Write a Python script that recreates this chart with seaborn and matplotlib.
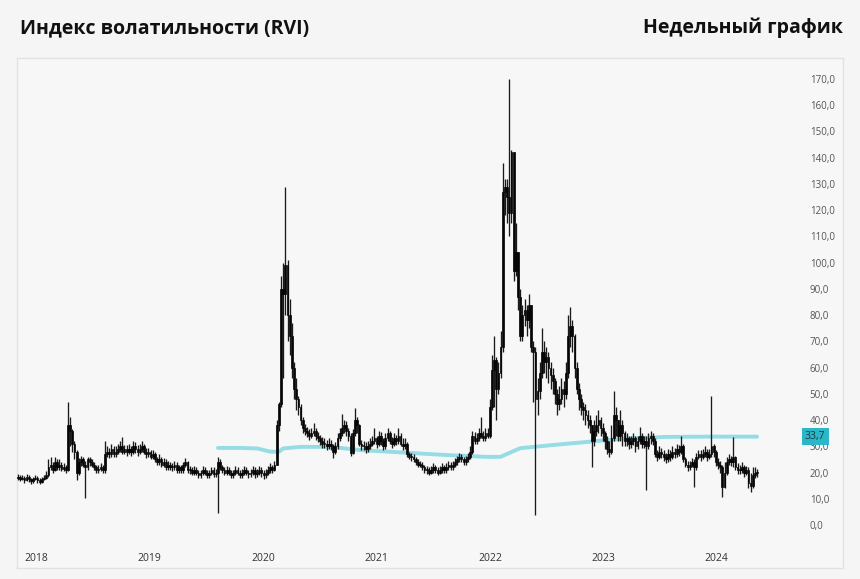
import matplotlib
matplotlib.use("Agg")
import numpy as np
import pandas as pd
import matplotlib.pyplot as plt
import matplotlib.transforms as mtransforms
import seaborn as sns

# ---------------- data (weekly RVI bars) ----------------
start_date = "2017-11-03"
first_open = 18.0

closes = [
    18.5, 17.5, 18.0, 17.0, 18.5, 17.5, 16.8, 17.5, 18.0, 17.0,
    16.5, 17.5, 18.0, 19.0, 22.0, 23.0, 21.0, 24.0, 22.0, 23.0,
    21.5, 22.0, 21.0, 38.0, 36.0, 31.0, 28.0, 20.0, 24.0, 25.0,
    23.0, 22.0, 25.0, 24.0, 23.0, 22.0, 21.0, 21.5, 22.0, 21.0,
    27.0, 28.0, 27.0, 29.0, 27.0, 28.0, 29.0, 30.0, 28.0, 29.0,
    28.0, 29.0, 28.0, 30.0, 29.0, 28.0, 29.0, 30.0, 28.0, 27.0,
    28.0, 26.0, 27.0, 25.0, 24.0, 25.0, 23.0, 24.0, 22.0, 23.0,
    22.0, 22.0, 23.0, 21.0, 22.0, 21.0, 23.0, 24.0, 21.0, 21.0,
    20.0, 21.0, 20.0, 19.0, 20.0, 21.0, 20.0, 19.0, 20.0, 21.0,
    19.5, 20.0, 24.0, 22.0, 21.0, 20.0, 21.0, 20.0, 19.0, 20.0,
    21.0, 20.0, 19.0, 20.0, 21.0, 20.0, 19.5, 20.0, 21.0, 19.5,
    20.0, 21.0, 20.0, 19.0, 20.0, 21.0, 22.0, 21.0, 23.0, 38.0,
    46.0, 90.0, 88.0, 99.0, 80.0, 72.0, 60.0, 52.0, 48.0, 45.0,
    40.0, 37.0, 36.0, 35.0, 34.0, 35.0, 36.0, 34.0, 33.0, 32.0,
    31.0, 31.0, 30.0, 31.0, 30.0, 28.0, 30.0, 33.0, 35.0, 37.0,
    38.0, 36.0, 34.0, 27.5, 35.0, 40.0, 38.0, 31.0, 30.0, 30.0,
    29.0, 30.0, 31.0, 32.0, 33.0, 31.0, 34.0, 32.0, 30.0, 33.0,
    35.0, 32.0, 31.0, 33.0, 32.0, 34.0, 31.0, 30.0, 31.0, 27.0,
    26.0, 26.0, 25.0, 24.0, 23.0, 23.0, 22.0, 21.0, 21.0, 20.0,
    21.0, 22.0, 21.0, 20.0, 21.0, 22.0, 21.0, 22.0, 23.0, 22.0,
    23.0, 24.0, 25.0, 26.0, 25.0, 24.0, 25.0, 26.0, 28.0, 34.0,
    32.0, 33.0, 35.0, 34.0, 33.0, 35.0, 34.0, 45.0, 59.0, 63.0,
    52.0, 58.0, 68.0, 127.0, 129.0, 125.0, 119.0, 142.0, 97.0, 104.0,
    87.0, 72.0, 80.0, 82.0, 78.0, 84.0, 68.0, 66.0, 48.0, 51.0,
    58.0, 66.0, 62.0, 64.0, 60.0, 57.0, 55.0, 50.0, 46.0, 48.0,
    52.0, 50.0, 58.0, 72.0, 76.0, 72.0, 60.0, 52.0, 48.0, 45.0,
    44.0, 42.0, 40.0, 38.0, 32.0, 36.0, 38.0, 40.0, 37.0, 35.0,
    32.0, 29.0, 28.0, 33.0, 42.0, 40.0, 34.0, 38.0, 35.0, 32.0,
    33.0, 31.0, 32.0, 33.0, 30.0, 32.0, 34.0, 31.0, 32.0, 30.0,
    33.0, 34.0, 32.0, 27.0, 26.0, 28.0, 27.0, 26.0, 25.0, 27.0,
    26.0, 28.0, 27.0, 29.0, 28.0, 30.0, 25.0, 23.0, 22.0, 23.0,
    24.0, 22.0, 26.0, 27.0, 26.0, 27.0, 28.0, 26.0, 27.0, 30.0,
    28.0, 24.0, 23.0, 22.0, 14.5, 20.0, 24.0, 25.0, 24.0, 26.0,
    22.0, 21.0, 21.0, 22.0, 20.0, 21.0, 16.0, 15.0, 19.0, 20.0, 20.0,
]

highs = [
    19.5, 19.0, 19.2, 18.8, 19.5, 19.0, 18.0, 18.5, 19.0, 18.6,
    17.8, 18.4, 19.0, 20.5, 25.0, 26.0, 24.0, 26.0, 25.0, 25.0,
    24.0, 23.5, 23.0, 47.0, 41.0, 36.5, 32.0, 28.5, 25.5, 26.5,
    26.0, 24.5, 26.0, 26.0, 25.0, 24.0, 23.0, 23.0, 23.5, 23.0,
    32.0, 30.0, 29.5, 31.0, 30.0, 30.0, 31.0, 32.0, 33.5, 30.5,
    30.5, 31.0, 30.0, 32.0, 31.5, 30.5, 31.0, 32.0, 31.0, 29.5,
    29.5, 28.5, 28.5, 28.0, 26.0, 27.0, 26.0, 25.5, 25.0, 24.5,
    24.0, 23.5, 24.5, 24.0, 23.0, 23.0, 24.0, 25.5, 24.5, 22.5,
    22.0, 22.5, 22.0, 21.0, 21.0, 22.5, 22.0, 21.0, 21.0, 22.0,
    22.0, 21.5, 26.0, 25.0, 23.0, 22.0, 22.5, 22.0, 21.0, 21.0,
    22.5, 22.0, 21.0, 21.5, 22.5, 22.0, 21.0, 21.5, 22.5, 22.0,
    21.5, 22.5, 22.0, 21.0, 21.5, 22.5, 23.5, 23.0, 24.5, 40.0,
    47.0, 95.0, 100.0, 129.0, 101.0, 86.0, 77.0, 62.0, 56.0, 49.0,
    46.0, 41.0, 38.5, 37.5, 36.5, 37.0, 39.0, 37.0, 35.5, 34.5,
    33.5, 33.0, 32.5, 33.0, 32.5, 31.0, 31.5, 35.0, 37.0, 42.5,
    40.0, 39.5, 37.0, 35.0, 36.5, 44.6, 41.0, 38.5, 32.5, 32.0,
    31.5, 32.0, 33.0, 34.0, 37.0, 34.0, 36.0, 35.5, 33.0, 35.0,
    37.0, 36.0, 33.5, 35.0, 34.5, 37.0, 35.0, 33.0, 33.0, 31.5,
    28.0, 27.5, 27.0, 26.0, 25.0, 24.5, 24.0, 23.0, 22.5, 22.0,
    22.5, 23.5, 23.0, 22.0, 22.5, 23.5, 23.0, 23.5, 24.5, 24.0,
    24.5, 25.5, 26.5, 27.5, 27.0, 26.0, 26.5, 27.5, 30.0, 36.0,
    35.5, 35.0, 37.0, 41.0, 36.0, 37.0, 37.0, 48.0, 65.0, 72.0,
    64.0, 62.0, 74.0, 138.0, 132.0, 132.0, 170.0, 143.0, 142.0, 115.0,
    104.0, 90.0, 84.0, 86.0, 84.0, 88.0, 84.0, 70.0, 68.0, 56.0,
    62.0, 75.0, 70.0, 68.0, 66.0, 62.0, 60.0, 56.0, 52.0, 53.0,
    56.0, 55.0, 62.0, 80.0, 83.0, 78.0, 73.0, 62.0, 54.0, 50.0,
    47.0, 46.0, 44.0, 42.0, 38.0, 40.0, 42.0, 44.0, 41.0, 39.0,
    36.0, 34.0, 32.0, 38.0, 51.0, 45.0, 40.0, 44.0, 40.0, 36.0,
    35.0, 34.0, 34.0, 35.0, 34.0, 34.0, 37.4, 35.0, 34.0, 34.0,
    35.0, 36.0, 35.0, 33.0, 28.5, 30.0, 29.5, 28.5, 27.5, 29.0,
    28.5, 30.0, 29.5, 31.0, 30.5, 34.0, 31.0, 26.0, 24.5, 24.5,
    25.5, 25.0, 27.5, 28.5, 28.5, 29.0, 30.0, 29.0, 29.0, 49.0,
    31.0, 28.5, 25.5, 24.5, 23.0, 24.0, 26.0, 27.0, 26.5, 33.6,
    26.5, 23.5, 23.0, 24.0, 23.0, 22.5, 22.0, 20.0, 22.0, 22.0, 21.5,
]

lows = [
    17.0, 16.8, 17.0, 16.2, 16.8, 16.5, 15.8, 16.0, 17.0, 16.2,
    15.6, 16.0, 17.0, 17.5, 18.5, 21.0, 20.0, 20.5, 21.0, 21.0,
    20.5, 20.5, 20.0, 20.5, 30.0, 28.0, 25.0, 17.0, 19.0, 22.5,
    22.0, 10.3, 21.0, 22.5, 22.0, 21.0, 20.0, 20.0, 20.5, 20.0,
    20.0, 26.0, 25.5, 26.0, 26.0, 26.0, 27.0, 28.0, 27.0, 27.0,
    26.5, 27.0, 26.5, 27.0, 27.5, 26.5, 27.0, 28.0, 27.0, 25.5,
    26.0, 25.0, 25.0, 24.0, 23.0, 23.0, 22.0, 22.0, 21.0, 21.0,
    21.0, 20.5, 21.0, 20.0, 20.0, 20.0, 20.0, 22.0, 20.0, 19.5,
    19.0, 19.0, 19.0, 18.0, 18.0, 19.0, 19.0, 18.0, 18.0, 19.0,
    18.5, 18.5, 4.6, 21.0, 20.0, 19.0, 19.0, 19.0, 18.0, 18.0,
    19.0, 19.0, 18.0, 18.0, 19.0, 19.0, 18.0, 18.5, 19.0, 18.0,
    18.5, 19.0, 18.5, 17.5, 18.0, 19.0, 20.0, 20.0, 20.5, 23.0,
    36.0, 45.0, 56.0, 80.0, 70.0, 65.0, 56.0, 48.0, 44.0, 42.0,
    38.0, 35.0, 34.5, 33.5, 32.5, 33.0, 34.0, 32.5, 31.5, 30.5,
    29.5, 29.5, 28.5, 29.0, 28.5, 25.6, 27.0, 29.0, 32.0, 34.0,
    35.0, 34.0, 32.0, 26.5, 27.0, 34.0, 35.0, 30.0, 28.5, 28.5,
    27.5, 28.0, 29.0, 30.0, 31.0, 29.5, 30.0, 30.5, 28.5, 29.0,
    32.0, 31.0, 29.5, 30.0, 30.5, 31.0, 30.0, 28.5, 29.0, 26.0,
    25.0, 24.5, 24.0, 23.0, 22.0, 22.0, 21.0, 20.0, 19.5, 19.0,
    19.5, 20.0, 20.0, 19.0, 19.5, 20.0, 20.0, 20.0, 21.0, 21.0,
    21.0, 22.0, 23.0, 24.0, 24.0, 23.0, 23.0, 24.0, 25.0, 27.0,
    31.0, 31.0, 32.0, 33.0, 32.0, 32.0, 33.0, 33.0, 44.0, 45.0,
    40.0, 50.0, 56.0, 66.0, 118.0, 115.0, 110.0, 115.0, 93.0, 95.0,
    82.0, 70.0, 70.0, 76.0, 72.0, 75.0, 66.0, 47.0, 3.8, 42.0,
    48.0, 56.0, 58.0, 56.0, 54.0, 52.0, 50.0, 46.0, 42.0, 44.0,
    46.0, 45.0, 48.0, 56.0, 68.0, 66.0, 56.0, 50.0, 44.0, 42.0,
    40.0, 38.0, 37.0, 35.0, 22.0, 30.0, 34.0, 35.0, 34.0, 32.0,
    29.0, 27.0, 26.0, 27.0, 32.0, 34.0, 32.0, 32.0, 30.0, 30.0,
    30.0, 29.0, 29.5, 30.5, 28.0, 29.0, 31.0, 29.5, 29.5, 13.3,
    29.0, 31.0, 30.5, 26.0, 24.5, 25.0, 25.5, 24.5, 23.5, 24.0,
    24.5, 25.0, 25.5, 26.0, 26.5, 27.0, 24.0, 22.0, 20.5, 21.0,
    22.0, 14.5, 21.0, 25.0, 24.5, 25.0, 26.0, 24.5, 25.0, 26.0,
    26.0, 22.5, 21.5, 20.0, 10.7, 14.0, 19.0, 23.0, 22.5, 22.0,
    21.0, 19.5, 19.5, 20.0, 18.5, 19.0, 14.0, 12.6, 14.0, 18.0, 18.5,
]

# moving-average line (cyan)
ma_dates = [
    "2019-08-09", "2019-10-18", "2019-12-13", "2020-01-24", "2020-02-21",
    "2020-03-06", "2020-05-01", "2020-08-07", "2020-11-06", "2021-04-02",
    "2021-08-13", "2021-12-17", "2022-02-04", "2022-04-08", "2022-07-22",
    "2022-11-11", "2023-02-24", "2023-04-28", "2023-07-21", "2023-12-15",
    "2024-05-10",
]
ma_values = [
    29.4, 29.4, 29.2, 28.0, 27.9,
    29.2, 29.8, 29.8, 28.6, 27.6,
    26.7, 26.0, 26.0, 29.3, 30.5,
    31.7, 32.8, 33.2, 33.6, 33.7,
    33.7,
]
ma_last_label = "33,7"

year_labels = ["2018", "2019", "2020", "2021", "2022", "2023", "2024"]
y_ticks = list(range(0, 171, 10))
title_left = "Индекс волатильности (RVI)"
title_right = "Недельный график"

assert len(closes) == len(highs) == len(lows)

# ---------------- build frames ----------------
dates = pd.date_range(start_date, periods=len(closes), freq="7D")
opens = [first_open] + closes[:-1]
df = pd.DataFrame({"date": dates, "open": opens, "high": highs,
                   "low": lows, "close": closes})
df["body_low"] = df[["open", "close"]].min(axis=1)
df["body_h"] = (df[["open", "close"]].max(axis=1) - df["body_low"]).clip(lower=0.4)
ma_df = pd.DataFrame({"date": pd.to_datetime(ma_dates), "value": ma_values})

# ---------------- style ----------------
sns.set_theme(style="white")
plt.rcParams["font.family"] = ["Open Sans", "DejaVu Sans"]

BG = "#f5f5f6"
PANEL = "#f7f7f8"
BORDER = "#e2e2e5"
CYAN_LINE = "#96dce5"
CYAN_BADGE = "#2bb7c7"

W, H = 860, 579
fig = plt.figure(figsize=(W / 100, H / 100), dpi=100)
fig.patch.set_facecolor(BG)

# panel frame as a background axes
bg_ax = fig.add_axes([17 / W, (H - 568) / H, (843 - 17) / W, (568 - 58) / H])
bg_ax.set_zorder(0)
bg_ax.set_facecolor(PANEL)
bg_ax.set_xticks([])
bg_ax.set_yticks([])
for s in bg_ax.spines.values():
    s.set_color(BORDER)
    s.set_linewidth(1.0)

ax_left, ax_right, ax_top, ax_bottom = 17, 800, 58, 545
ax = fig.add_axes([ax_left / W, (H - ax_bottom) / H,
                   (ax_right - ax_left) / W, (ax_bottom - ax_top) / H])
ax.set_zorder(2)
ax.patch.set_alpha(0.0)
for s in ax.spines.values():
    s.set_visible(False)

# moving average line (under the candles)
sns.lineplot(data=ma_df, x="date", y="value", ax=ax, color=CYAN_LINE,
             lw=2.8, zorder=2, solid_capstyle="round")

# candles: wicks + bodies
ax.vlines(df["date"], df["low"], df["high"], color="#1a1a1a", lw=0.95, zorder=3)
ax.bar(df["date"], df["body_h"], bottom=df["body_low"], width=5.6,
       color="#050505", edgecolor="#050505", lw=0.5, zorder=4)

ax.set_xlim(pd.Timestamp("2017-10-31"), pd.Timestamp("2024-09-25"))
ax.set_ylim(-7.6, 178.0)

# x axis years
ax.set_xticks([pd.Timestamp(f"{y}-01-01") for y in year_labels])
ax.set_xticklabels(year_labels)
ax.tick_params(axis="x", length=0, pad=6, labelsize=7.5, labelcolor="#333333")

# y axis on the right
ax.yaxis.tick_right()
ax.set_yticks(y_ticks)
ax.set_yticklabels([f"{v},0" for v in y_ticks])
ax.tick_params(axis="y", length=0, pad=7, labelsize=7, labelcolor="#555555")
ax.set_xlabel("")
ax.set_ylabel("")
ax.grid(False)

# last value badge
trans = mtransforms.blended_transform_factory(ax.transAxes, ax.transData)
ax.text(1.0 + 5 / (ax_right - ax_left), ma_values[-1], ma_last_label, transform=trans,
        ha="left", va="center", fontsize=7.5, color="#16393e", zorder=20, clip_on=False,
        bbox=dict(boxstyle="square,pad=0.3", fc=CYAN_BADGE, ec="none"))

# titles
fig.text(20 / W, 1 - 28 / H, title_left, ha="left", va="center",
         fontsize=14, fontweight="bold", color="#111111")
fig.text(843 / W, 1 - 28 / H, title_right, ha="right", va="center",
         fontsize=14, fontweight="bold", color="#111111")

fig.savefig("out.png", dpi=100, facecolor=BG)
